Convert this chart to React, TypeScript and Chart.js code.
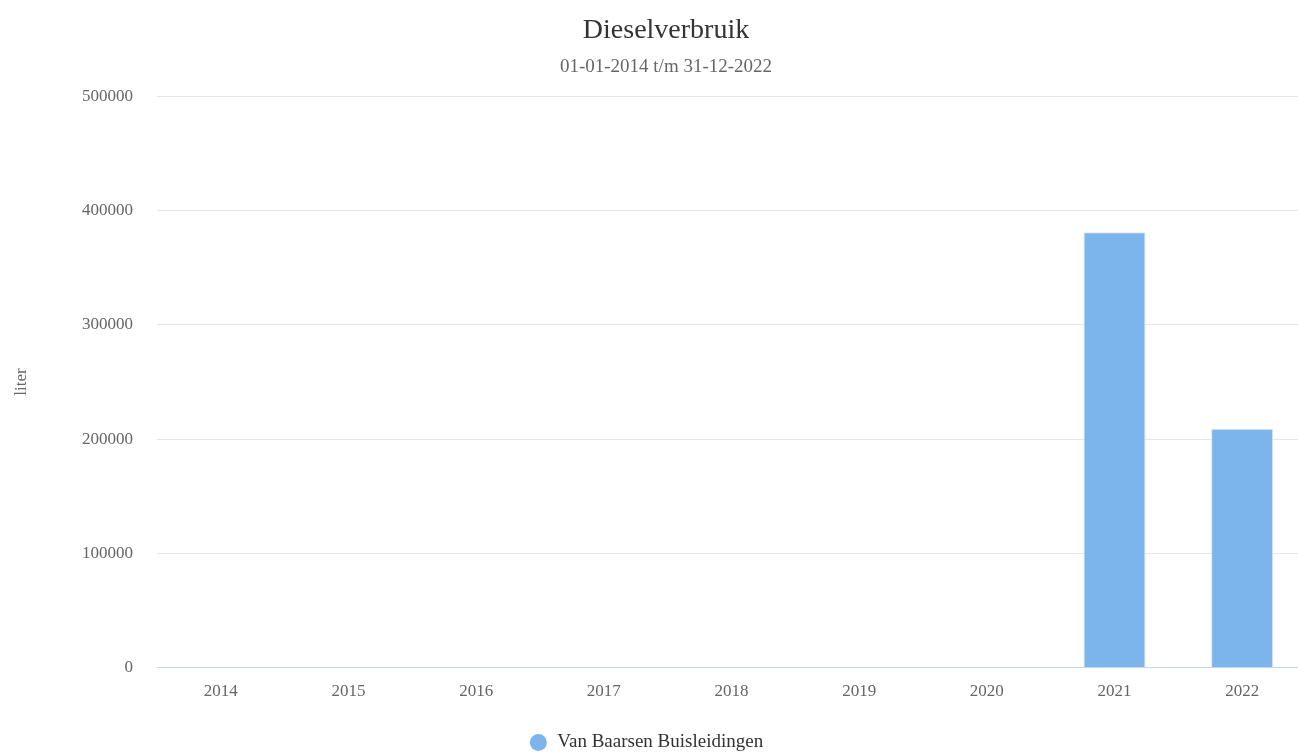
import React, { useEffect, useRef } from "react";
import { Chart, registerables } from "chart.js";

Chart.register(...registerables);

const categories = ["2014", "2015", "2016", "2017", "2018", "2019", "2020", "2021", "2022"];
const seriesName = "Van Baarsen Buisleidingen";
const seriesValues = [0, 0, 0, 0, 0, 0, 0, 381000, 209000];
const yTicks = [0, 100000, 200000, 300000, 400000, 500000];
const titleText = "Dieselverbruik";
const subtitleText = "01-01-2014 t/m 31-12-2022";
const yAxisTitle = "liter";

const FONT = "'Liberation Serif', 'Times New Roman', serif";
const BAR_COLOR = "#7cb5ec";

// shifts title/subtitle and legend to match the reference layout
const boxShift = {
  id: "boxShift",
  afterLayout(chart: any) {
    chart.boxes.forEach((b: any) => {
      let dx = 0;
      let dy = 0;
      if (b === chart.legend) {
        dx = -7;
        dy = 7;
      } else if (b.options && (b.options.text === titleText || b.options.text === subtitleText)) dx = 13;
      if (dx || dy) {
        b.left += dx;
        b.right += dx;
        b.top += dy;
        b.bottom += dy;
      }
    });
  },
};

export default function App() {
  const ref = useRef<HTMLCanvasElement | null>(null);

  useEffect(() => {
    if (!ref.current) return;
    const chart = new Chart(ref.current, {
      type: "bar",
      data: {
        labels: categories,
        datasets: [
          {
            label: seriesName,
            data: seriesValues,
            backgroundColor: BAR_COLOR,
            borderColor: "#dde6f0",
            borderWidth: 1,
            borderSkipped: "bottom",
            barPercentage: 0.486,
            categoryPercentage: 1,
          },
        ],
      },
      plugins: [boxShift],
      options: {
        responsive: false,
        animation: false,
        devicePixelRatio: 1,
        layout: { padding: { left: 0, right: 26, top: 0, bottom: 0 } },
        plugins: {
          title: {
            display: true,
            text: titleText,
            color: "#333333",
            font: { family: FONT, size: 28, weight: "normal" },
            padding: { top: 14, bottom: 8 },
          },
          subtitle: {
            display: true,
            text: subtitleText,
            color: "#666666",
            font: { family: FONT, size: 19, weight: "normal" },
            padding: { top: 0, bottom: 18 },
          },
          legend: {
            position: "bottom",
            labels: {
              usePointStyle: true,
              pointStyle: "circle",
              boxWidth: 19,
              boxHeight: 12,
              padding: 0,
              color: "#333333",
              font: { family: FONT, size: 19 },
              generateLabels: (c: any) =>
                c.data.datasets.map((ds: any, i: number) => ({
                  text: ds.label,
                  fillStyle: BAR_COLOR,
                  strokeStyle: BAR_COLOR,
                  lineWidth: 0,
                  pointStyle: "circle",
                  hidden: false,
                  datasetIndex: i,
                  fontColor: "#333333",
                })),
            },
          },
          tooltip: { enabled: false },
        },
        scales: {
          x: {
            grid: { display: false },
            border: { display: true, color: "#ccd6eb", width: 1 },
            afterFit: (s: any) => {
              s.height += 18;
            },
            ticks: {
              color: "#666666",
              font: { family: FONT, size: 17 },
              padding: 6,
              maxRotation: 0,
            },
          },
          y: {
            min: yTicks[0],
            max: yTicks[yTicks.length - 1],
            afterBuildTicks: (s: any) => {
              s.ticks = yTicks.map((v) => ({ value: v }));
            },
            afterFit: (s: any) => {
              s.width = 157;
            },
            grid: { color: "#e6e6e6", drawTicks: false, lineWidth: 1 },
            border: { display: false },
            ticks: {
              color: "#666666",
              font: { family: FONT, size: 17 },
              padding: 24,
              callback: (v: any) => String(v),
            },
            title: {
              display: true,
              text: yAxisTitle,
              color: "#666666",
              font: { family: FONT, size: 17 },
              padding: { top: 11, bottom: 10 },
            },
          },
        },
      },
    });
    return () => chart.destroy();
  }, []);

  return (
    <div
      style={{
        position: "absolute",
        left: 0,
        top: 0,
        width: 1298,
        height: 755,
        overflow: "hidden",
        background: "#ffffff",
      }}
    >
      <canvas ref={ref} width={1332} height={755} style={{ display: "block" }} />
    </div>
  );
}
